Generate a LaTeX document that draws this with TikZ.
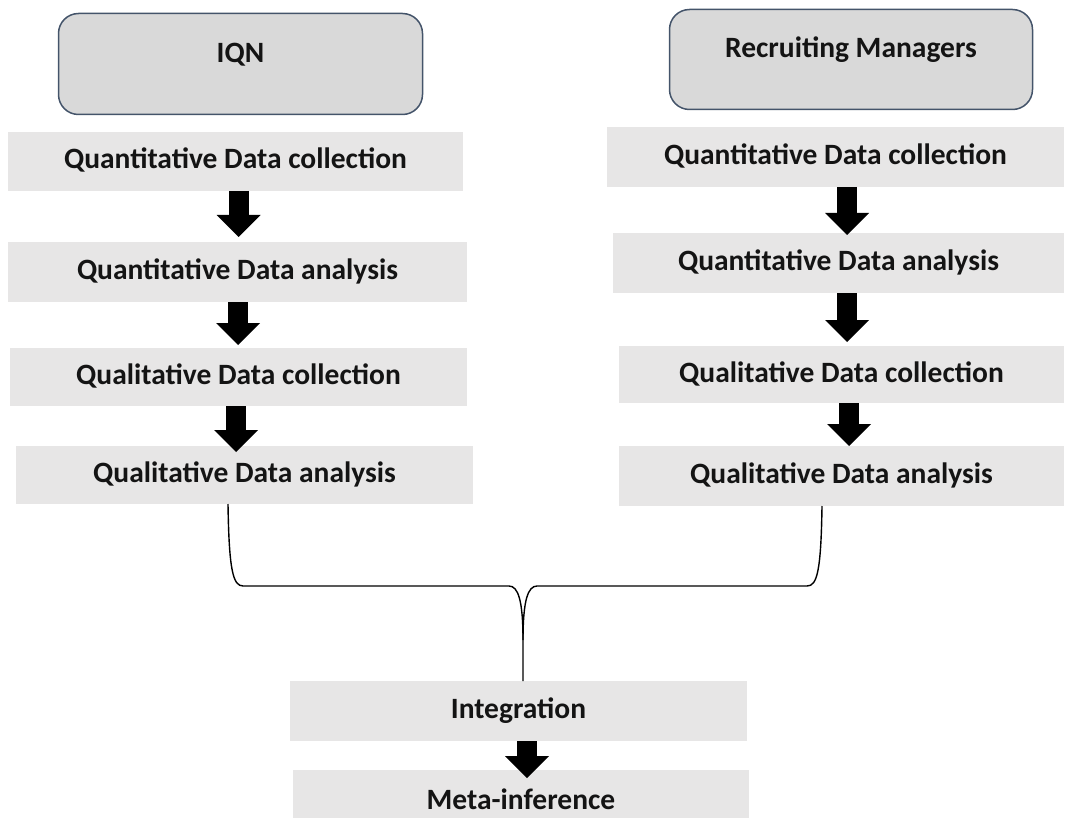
\documentclass[tikz,border=0pt]{standalone}
\usepackage{fontspec}
\setmainfont{Carlito}
\usetikzlibrary{arrows.meta,calc}

\definecolor{stepgray}{RGB}{231,230,230}
\definecolor{headgray}{RGB}{217,217,217}
\definecolor{headline}{RGB}{68,84,106}
\definecolor{inktext}{RGB}{20,20,20}

\tikzset{
  labelfont/.style={font=\bfseries\fontsize{29.5}{35}\selectfont, text=inktext},
  stepbox/.style={labelfont, fill=stepgray, inner sep=0pt, outer sep=0pt,
    text height=22pt, text depth=7pt},
  headbox/.style={labelfont, fill=headgray, draw=headline, line width=1.5pt,
    rounded corners=20pt, inner sep=0pt, text height=20pt, text depth=23pt},
  flowarrow/.style={black, line width=20pt,
    -{Triangle[length=22pt 0 0, width=44pt 0 0, line width=0pt 0 0]}},
  bracketline/.style={black, line width=1.4pt}
}

\begin{document}
\begin{tikzpicture}[x=1pt, y=-1pt]
\useasboundingbox (0,0) rectangle (1067,818);

% group headers
\node[headbox, minimum width=364pt, minimum height=101pt] (iqn) at (240.5,64) {IQN};
\node[headbox, minimum width=363pt, minimum height=100pt] (rm) at (851,59.5) {Recruiting Managers};

% left sequence
\node[stepbox, minimum width=455pt, minimum height=59pt] (L1) at (235.5,161.5) {Quantitative Data collection};
\node[stepbox, minimum width=459pt, minimum height=60pt] (L2) at (237.5,272) {Quantitative Data analysis};
\node[stepbox, minimum width=457pt, minimum height=58pt] (L3) at (238.5,377) {Qualitative Data collection};
\node[stepbox, minimum width=457pt, minimum height=58pt] (L4) at (244.5,475) {Qualitative Data analysis};

% right sequence
\node[stepbox, minimum width=457pt, minimum height=60pt] (R1) at (835.5,157) {Quantitative Data collection};
\node[stepbox, minimum width=451pt, minimum height=60pt] (R2) at (838.5,263) {Quantitative Data analysis};
\node[stepbox, minimum width=445pt, minimum height=57pt] (R3) at (841.5,374.5) {Qualitative Data collection};
\node[stepbox, minimum width=445pt, minimum height=60pt] (R4) at (841.5,476) {Qualitative Data analysis};

% merged steps
\node[stepbox, minimum width=457pt, minimum height=60pt] (int) at (518.5,711) {Integration};
\node[stepbox, minimum width=456pt, minimum height=64pt] (meta) at (521,802) {Meta-inference};

% block arrows between steps
\draw[flowarrow] ($(L1.south)+(3,0)$) -- ($(L1.south |- L2.north)+(3,-5)$);
\draw[flowarrow] ($(L2.south)+(0.5,0)$) -- ($(L2.south |- L3.north)+(0.5,-3)$);
\draw[flowarrow] ($(L3.south)+(-2.5,0)$) -- ($(L3.south |- L4.north)+(-2.5,6)$);
\draw[flowarrow] ($(R1.south)+(11.5,0)$) -- ($(R1.south |- R2.north)+(11.5,2)$);
\draw[flowarrow] ($(R2.south)+(8.5,0)$) -- ($(R2.south |- R3.north)+(8.5,-4)$);
\draw[flowarrow] ($(R3.south)+(7.5,0)$) -- ($(R3.south |- R4.north)+(7.5,0)$);
\draw[flowarrow] ($(int.south)+(8.5,0)$) -- ($(int.south |- meta.north)+(8.5,8)$);

% brace joining both sequences into the integration step
\coordinate (joint) at ($(int.north)+(4.5,-41)$);
\draw[bracketline] ($(L4.south)+(-16.5,0)$) .. controls +(1,66) and +(-10,0) .. (243,586)
  -- (509,586) .. controls +(9,0) and +(0,-40) .. (joint) -- ($(int.north)+(4.5,0)$);
\draw[bracketline] ($(R4.south)+(-19.5,0)$) .. controls +(-1,66) and +(10,0) .. (807,586)
  -- (537,586) .. controls +(-9,0) and +(0,-40) .. (joint);
\end{tikzpicture}
\end{document}
